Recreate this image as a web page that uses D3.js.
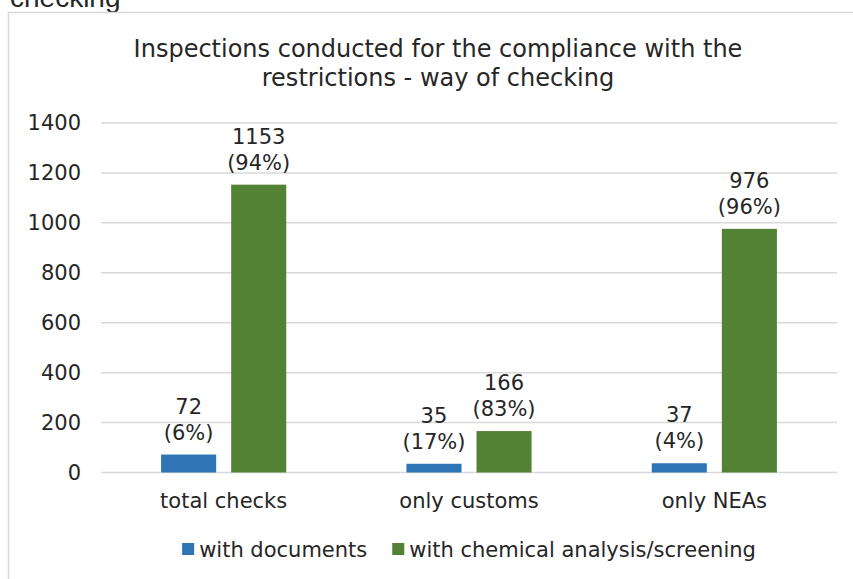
<!DOCTYPE html>
<html>
<head>
<meta charset="utf-8">
<script src="https://cdn.jsdelivr.net/npm/d3@7"></script>
<style>
  body { margin: 0; background: #fff; }
  svg { display: block; }
  text { font-family: "DejaVu Sans", Verdana, sans-serif; fill: #262626; }
</style>
</head>
<body>
<svg id="chart" width="853" height="579"></svg>
<script>
// chart data
const categories = ['total checks', 'only customs', 'only NEAs'];
const seriesNames = ['with documents', 'with chemical analysis/screening'];
const withDocuments = [72, 35, 37];
const withChemical = [1153, 166, 976];
const docShares = ['6%', '17%', '4%'];
const chemShares = ['94%', '83%', '96%'];
const yTicks = [0, 200, 400, 600, 800, 1000, 1200, 1400];
const titleLines = ['Inspections conducted for the compliance with the', 'restrictions - way of checking'];

const colors = ['#2e75b6', '#548235'];

const svg = d3.select('#chart');

// bit of the caption above the chart that got cropped
svg.append('text')
  .attr('x', 10)
  .attr('y', 7)
  .style('font-family', '"Liberation Sans", Arial, sans-serif')
  .style('font-size', '28px')
  .text('checking');

// chart frame
svg.append('rect')
  .attr('x', 8.5)
  .attr('y', 12.5)
  .attr('width', 900)
  .attr('height', 600)
  .attr('fill', '#fff')
  .attr('stroke', '#d9d9d9')
  .attr('stroke-width', 1.5);

const margin = { left: 101, right: 837, top: 123, bottom: 472.5 };

// scales
const x0 = d3.scaleBand()
  .domain(categories)
  .range([margin.left, margin.right])
  .paddingInner(0.49)
  .paddingOuter(0.245);

const x1 = d3.scaleBand()
  .domain(seriesNames)
  .range([0, x0.bandwidth()])
  .paddingInner(0.214)
  .paddingOuter(0);

const y = d3.scaleLinear()
  .domain([0, 1400])
  .range([margin.bottom, margin.top]);

// gridlines
svg.append('g')
  .selectAll('line')
  .data(yTicks)
  .enter()
  .append('line')
  .attr('x1', margin.left)
  .attr('x2', margin.right)
  .attr('y1', d => y(d))
  .attr('y2', d => y(d))
  .attr('stroke', '#d9d9d9')
  .attr('stroke-width', 1.5);

// y axis labels
const yAxis = d3.axisLeft(y).tickValues(yTicks).tickFormat(d3.format('d')).tickSize(0).tickPadding(0);
const yG = svg.append('g')
  .attr('transform', 'translate(81,0)')
  .call(yAxis);
yG.select('.domain').remove();
yG.selectAll('text')
  .style('font-size', '21px')
  .style('font-family', '"DejaVu Sans", Verdana, sans-serif')
  .attr('fill', '#262626');

// x axis labels
const xAxis = d3.axisBottom(x0).tickSize(0).tickPadding(0);
const xG = svg.append('g')
  .attr('transform', `translate(0,${margin.bottom})`)
  .call(xAxis);
xG.select('.domain').remove();
xG.selectAll('text')
  .attr('dy', null)
  .attr('y', 35.5)
  .style('font-size', '21px')
  .style('font-family', '"DejaVu Sans", Verdana, sans-serif')
  .attr('fill', '#262626');

// rows for the bars
const rows = [];
categories.forEach((c, i) => {
  rows.push({ cat: c, series: seriesNames[0], value: withDocuments[i], share: docShares[i], color: colors[0] });
  rows.push({ cat: c, series: seriesNames[1], value: withChemical[i], share: chemShares[i], color: colors[1] });
});

svg.append('g')
  .selectAll('rect')
  .data(rows)
  .enter()
  .append('rect')
  .attr('x', d => x0(d.cat) + x1(d.series))
  .attr('y', d => y(d.value))
  .attr('width', x1.bandwidth())
  .attr('height', d => y(0) - y(d.value))
  .attr('fill', d => d.color);

// data labels, two lines
const labels = svg.append('g')
  .selectAll('text')
  .data(rows)
  .enter()
  .append('text')
  .attr('text-anchor', 'middle')
  .style('font-size', '21px');

labels.append('tspan')
  .attr('x', d => x0(d.cat) + x1(d.series) + x1.bandwidth() / 2)
  .attr('y', d => y(d.value) - 41)
  .text(d => d.value);

labels.append('tspan')
  .attr('x', d => x0(d.cat) + x1(d.series) + x1.bandwidth() / 2)
  .attr('y', d => y(d.value) - 15)
  .text(d => `(${d.share})`);

// title
svg.append('text')
  .attr('text-anchor', 'middle')
  .style('font-size', '24px')
  .selectAll('tspan')
  .data(titleLines)
  .enter()
  .append('tspan')
  .attr('x', 438)
  .attr('y', (d, i) => 57 + i * 29)
  .text(d => d);

// legend, centred under the plot
const legend = svg.append('g');
const items = legend.selectAll('g')
  .data(seriesNames)
  .enter()
  .append('g');

items.append('rect')
  .attr('width', 12)
  .attr('height', 12)
  .attr('y', 543)
  .attr('fill', (d, i) => colors[i]);

items.append('text')
  .attr('x', 17)
  .attr('y', 557)
  .style('font-size', '21px')
  .text(d => d);

let offset = 0;
items.each(function () {
  const w = d3.select(this).select('text').node().getComputedTextLength();
  d3.select(this).attr('transform', `translate(${offset},0)`);
  offset += 17 + w + 25;
});
const legendWidth = offset - 25;
legend.attr('transform', `translate(${(margin.left + margin.right) / 2 - legendWidth / 2},0)`);
</script>
</body>
</html>
